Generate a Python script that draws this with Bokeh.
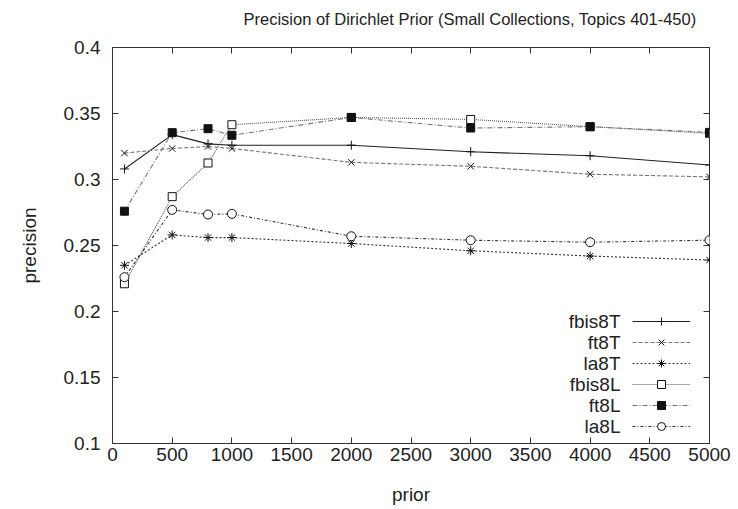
from bokeh.plotting import figure
from bokeh.models import (Range1d, LinearAxis, FixedTicker, Legend, LegendItem, Label,
                          CustomLabelingPolicy)
from bokeh.embed import file_html
from bokeh.resources import INLINE

prior = [100, 500, 800, 1000, 2000, 3000, 4000, 5000]
fbis8T = [0.308, 0.334, 0.327, 0.326, 0.326, 0.321, 0.318, 0.311]
ft8T = [0.320, 0.3235, 0.325, 0.3235, 0.313, 0.310, 0.304, 0.302]
la8T = [0.235, 0.258, 0.256, 0.256, 0.2515, 0.246, 0.242, 0.239]
fbis8L = [0.221, 0.287, 0.3125, 0.3415, 0.347, 0.3455, 0.340, 0.335]
ft8L = [0.276, 0.3355, 0.3385, 0.3335, 0.347, 0.339, 0.340, 0.3357]
la8L = [0.226, 0.277, 0.2735, 0.274, 0.257, 0.254, 0.2525, 0.254]

series_names = ["fbis8T", "ft8T", "la8T", "fbis8L", "ft8L", "la8L"]
x_ticks = list(range(0, 5001, 500))
y_ticks = [0.1, 0.15, 0.2, 0.25, 0.3, 0.35, 0.4]
y_tick_labels = ["0.1", "0.15", "0.2", "0.25", "0.3", "0.35", "0.4"]
title_text = "Precision of Dirichlet Prior (Small Collections, Topics 401-450)"

FONT = "Liberation Sans"
TICK_SIZE = "19px"
TXT = "#222222"

p = figure(width=738, height=509, output_backend="svg", toolbar_location=None,
           x_range=Range1d(0, 5000), y_range=Range1d(0.1, 0.4),
           min_border_left=112, min_border_right=26, min_border_top=47, min_border_bottom=66)

p.title.text = title_text
p.title.align = "left"
p.title.offset = 131
p.title.vertical_align = "top"
p.title.text_font = FONT
p.title.text_font_size = "16.5px"
p.title.text_font_style = "normal"
p.title.text_color = TXT
p.title.standoff = 14

p.grid.visible = False
p.outline_line_color = "#333333"
p.outline_line_width = 1
p.background_fill_color = "white"
p.border_fill_color = "white"

for ax in (p.xaxis[0], p.yaxis[0]):
    ax.major_tick_in = 6
    ax.major_tick_out = 0
    ax.minor_tick_in = 0
    ax.minor_tick_out = 0
    ax.axis_line_color = None
    ax.major_tick_line_color = "#333333"
    ax.major_label_text_font = FONT
    ax.major_label_text_font_size = TICK_SIZE
    ax.major_label_text_color = TXT
    ax.axis_label_text_font = FONT
    ax.axis_label_text_font_size = TICK_SIZE
    ax.axis_label_text_font_style = "normal"
    ax.axis_label_text_color = TXT

p.xaxis.ticker = FixedTicker(ticks=x_ticks)
p.yaxis.ticker = FixedTicker(ticks=y_ticks)
p.yaxis.major_label_overrides = dict(zip(y_ticks, y_tick_labels))
p.xaxis.axis_label = "prior"
p.yaxis.axis_label = "precision"
p.xaxis.major_label_standoff = 4
p.yaxis.major_label_standoff = 12
p.xaxis.axis_label_standoff = 20
p.yaxis.axis_label_standoff = 21

hide_code = "for (const i of indices) indices.unset(i)\nreturn indices"
top = LinearAxis(ticker=FixedTicker(ticks=x_ticks),
                 major_label_policy=CustomLabelingPolicy(code=hide_code),
                 major_label_text_font_size="10px", major_label_standoff=0,
                 major_tick_in=6, major_tick_out=0, minor_tick_in=0, minor_tick_out=0,
                 axis_line_color=None, major_tick_line_color="#333333")
right = LinearAxis(ticker=FixedTicker(ticks=y_ticks),
                   major_label_policy=CustomLabelingPolicy(code=hide_code),
                   major_tick_in=6, major_tick_out=0, minor_tick_in=0, minor_tick_out=0,
                   axis_line_color=None, major_tick_line_color="#333333")
p.add_layout(top, "above")
p.add_layout(right, "right")

styles = [
    ("solid", "#222222", "cross", False),
    ("4 2", "#777777", "x", False),
    ("2 2", "#333333", "asterisk", False),
    ("1 1", "#555555", "square", False),
    ("5 2 1 2", "#777777", "square", True),
    ("3 2 1 2", "#333333", "circle", False),
]
values = [fbis8T, ft8T, la8T, fbis8L, ft8L, la8L]

items = []
for name, vals, (dash, col, mk, filled) in zip(series_names, values, styles):
    r1 = p.line(prior, vals, line_color=col, line_dash=dash, line_width=1.1)
    r2 = p.scatter(prior, vals, marker=mk, size=9 if mk != "square" else 8,
                   line_color="#111111", fill_color="#111111" if filled else "white",
                   line_width=1)
    items.append(LegendItem(label="", renderers=[r1, r2]))

ROW = 21
legend = Legend(items=items, location=(520, 7), orientation="vertical",
                glyph_width=58, glyph_height=20, label_height=20, label_width=0,
                label_standoff=0, spacing=ROW - 20,
                padding=0, margin=0, border_line_color=None, background_fill_alpha=0)
p.add_layout(legend, "center")

# legend texts, right-aligned to the left of each sample
n = len(series_names)
for i, name in enumerate(series_names):
    p.add_layout(Label(x=508, y=7 + (n - 1 - i) * ROW + 10, x_units="screen", y_units="screen",
                       text=name, text_align="right", text_baseline="middle",
                       text_font=FONT, text_font_size=TICK_SIZE, text_color=TXT))

open("out.html", "w").write(file_html(p, INLINE))
